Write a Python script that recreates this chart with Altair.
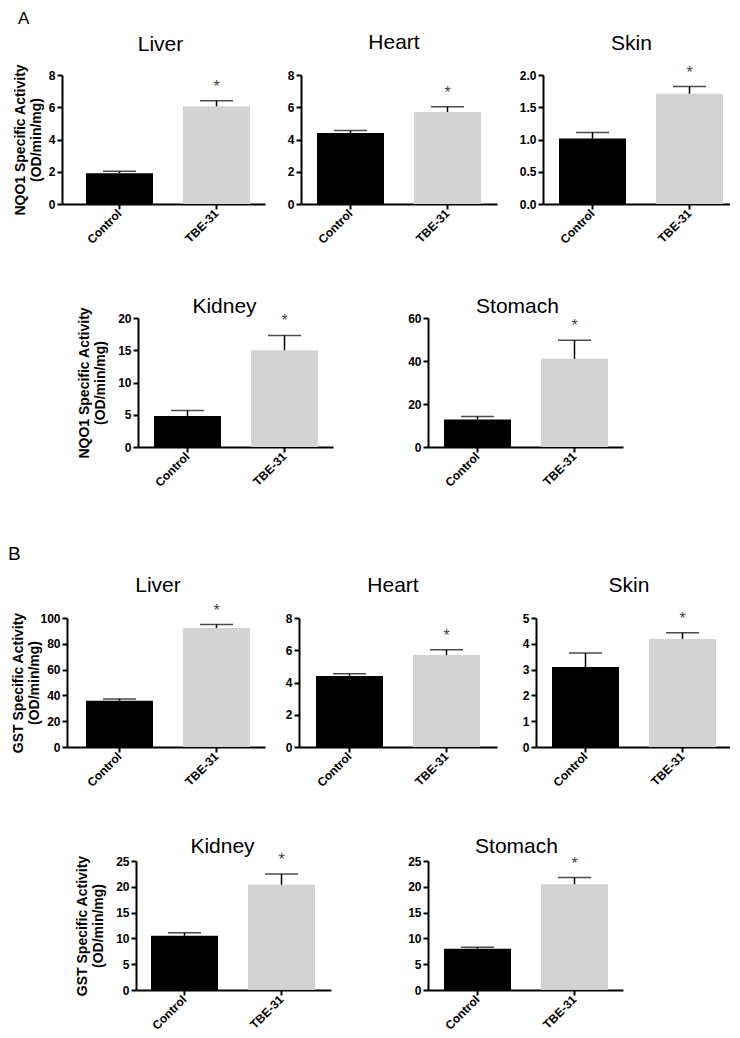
import altair as alt
import pandas as pd

# ---------------- data ----------------
groups = ["Control", "TBE-31"]
significance = ["", "*"]

# Panel A: NQO1 specific activity (OD/min/mg): mean and SEM
nqo1_liver_mean = [1.90, 6.06]
nqo1_liver_sem = [0.13, 0.35]
nqo1_heart_mean = [4.40, 5.70]
nqo1_heart_sem = [0.16, 0.33]
nqo1_skin_mean = [1.015, 1.71]
nqo1_skin_sem = [0.095, 0.11]
nqo1_kidney_mean = [4.8, 15.0]
nqo1_kidney_sem = [0.85, 2.3]
nqo1_stomach_mean = [12.8, 41.0]
nqo1_stomach_sem = [1.4, 8.7]

# Panel B: GST specific activity (OD/min/mg): mean and SEM
gst_liver_mean = [35.9, 92.2]
gst_liver_sem = [1.3, 2.7]
gst_heart_mean = [4.41, 5.70]
gst_heart_sem = [0.14, 0.33]
gst_skin_mean = [3.10, 4.19]
gst_skin_sem = [0.54, 0.24]
gst_kidney_mean = [10.5, 20.4]
gst_kidney_sem = [0.6, 2.1]
gst_stomach_mean = [8.0, 20.5]
gst_stomach_sem = [0.3, 1.3]

# y-axis tick values
ticks_0_8 = [0, 2, 4, 6, 8]
ticks_0_2 = [0, 0.5, 1.0, 1.5, 2.0]
ticks_0_20 = [0, 5, 10, 15, 20]
ticks_0_60 = [0, 20, 40, 60]
ticks_0_100 = [0, 20, 40, 60, 80, 100]
ticks_0_5 = [0, 1, 2, 3, 4, 5]
ticks_0_25 = [0, 5, 10, 15, 20, 25]

nqo1_title = ["NQO1 Specific Activity", "(OD/min/mg)"]
gst_title = ["GST Specific Activity", "(OD/min/mg)"]
section_labels = ["A", "B"]

# ---------------- styling ----------------
FONT = "Liberation Sans"
H = 129
STEP, BW = 97, 67
BAR_COLORS = ["#000000", "#d3d3d3"]


def panel(name, means, sems, ticks, W, lg, fmt="d", ytitle=None, E=None,
          toff=0.0, tdx=0.0):
    df = pd.DataFrame({"group": groups, "mean": means, "sem": sems,
                       "sig": significance})
    base = alt.Chart(df).transform_calculate(top="datum.mean + datum.sem")
    outer = W - 2 * STEP + (STEP - BW)
    xscale = alt.Scale(paddingInner=(STEP - BW) / STEP,
                       paddingOuter=outer / (2 * STEP),
                       align=lg / outer)
    xaxis = alt.Axis(labelAngle=-45, labelAlign="right", labelBaseline="middle",
                     labelFont=FONT, labelFontSize=12, labelFontWeight="bold",
                     labelColor="black", labelPadding=2,
                     domainColor="black", domainWidth=2,
                     tickColor="black", tickWidth=2, tickSize=5,
                     grid=False, title=None)
    yax = dict(values=ticks, tickCount=len(ticks), format=fmt, grid=False,
               labelFont=FONT, labelFontSize=12, labelFontWeight="bold",
               labelColor="black", labelPadding=2, labelFlush=False,
               labelOverlap=False,
               domainColor="black", domainWidth=2,
               tickColor="black", tickWidth=2, tickSize=5)
    if ytitle is not None:
        yax.update(title=ytitle, titleFont=FONT, titleFontSize=14,
                   titleFontWeight="bold", titleColor="black",
                   titleLineHeight=16, titlePadding=0,
                   minExtent=E, maxExtent=E)
    else:
        yax.update(title=None)
    yaxis = alt.Axis(**yax)
    yscale = alt.Scale(domain=[ticks[0], ticks[-1]], nice=False, zero=True)

    xs = alt.X("group:N", sort=groups, scale=xscale, axis=xaxis)
    bars = base.mark_bar().encode(
        x=xs,
        y=alt.Y("mean:Q", scale=yscale, axis=yaxis),
        color=alt.Color("group:N", scale=alt.Scale(domain=groups, range=BAR_COLORS),
                        legend=None),
    )
    stem = base.mark_rule(color="black", strokeWidth=1.5).encode(
        x=xs, y=alt.Y("mean:Q", scale=yscale, axis=yaxis), y2="top:Q")
    cap = base.mark_tick(color="black", thickness=1.5, size=33).encode(
        x=xs, y=alt.Y("top:Q", scale=yscale, axis=yaxis))
    star = base.mark_text(font=FONT, fontSize=16, color="#444444",
                          baseline="alphabetic", dy=-9).encode(
        x=xs, y=alt.Y("top:Q", scale=yscale, axis=yaxis), text="sig:N")
    return alt.layer(bars, stem, cap, star).properties(
        width=W, height=H,
        title=alt.TitleParams(text=name, font=FONT, fontSize=21,
                              fontWeight="normal", color="black",
                              anchor="middle", frame="group",
                              offset=toff, dx=tdx),
    )


def spacer(w):
    return alt.Chart(pd.DataFrame({"v": [0]})).mark_point(size=0, opacity=0).encode(
        x=alt.value(w / 2), y=alt.value(H / 2)).properties(width=w, height=H)


def lead(w, T, B, label=None, lx=0, ly=0, size=19):
    """Leading spacer of a row: fixes the row's vertical extent and holds the section letter."""
    base = alt.Chart(pd.DataFrame({"v": [0]}))
    layers = [base.mark_rule(strokeOpacity=0, strokeWidth=0.01).encode(
        x=alt.value(0), y=alt.value(-T), y2=alt.value(H + B))]
    if label is not None:
        layers.append(base.mark_text(text=label, font=FONT, fontSize=size, color="black",
                                     align="left", baseline="top").encode(
            x=alt.value(lx), y=alt.value(ly)))
    return alt.layer(*layers).properties(width=w, height=H)


def row(*cells):
    return alt.hconcat(*cells, spacing=0, bounds="flush")


a_liver = panel("Liver", nqo1_liver_mean, nqo1_liver_sem, ticks_0_8, 203, 24,
                ytitle=nqo1_title, E=19, toff=8.6, tdx=-3)
a_heart = panel("Heart", nqo1_heart_mean, nqo1_heart_sem, ticks_0_8, 196, 16,
                toff=15.6, tdx=-5)
a_skin = panel("Skin", nqo1_skin_mean, nqo1_skin_sem, ticks_0_2, 187, 16,
               fmt=".1f", toff=10.4, tdx=-5)
a_kidney = panel("Kidney", nqo1_kidney_mean, nqo1_kidney_sem, ticks_0_20, 195, 16,
                 ytitle=nqo1_title, E=31, toff=-10.4, tdx=-11)
a_stomach = panel("Stomach", nqo1_stomach_mean, nqo1_stomach_sem, ticks_0_60, 195, 16,
                  toff=-5.4, tdx=-8)

b_liver = panel("Liver", gst_liver_mean, gst_liver_sem, ticks_0_100, 198, 19,
                ytitle=gst_title, E=26, toff=6.4, tdx=-8)
b_heart = panel("Heart", gst_heart_mean, gst_heart_sem, ticks_0_8, 198, 17,
                toff=15.6, tdx=-5)
b_skin = panel("Skin", gst_skin_mean, gst_skin_sem, ticks_0_5, 194, 16,
               toff=14.5, tdx=-4)
b_kidney = panel("Kidney", gst_kidney_mean, gst_kidney_sem, ticks_0_25, 195, 15,
                 ytitle=gst_title, E=31, toff=-5.3, tdx=-11)
b_stomach = panel("Stomach", gst_stomach_mean, gst_stomach_sem, ticks_0_25, 195, 16,
                  toff=-2.4, tdx=-9)

BOT = 42
row_a1 = row(lead(1, 67, BOT, section_labels[0], lx=-43, ly=-64, size=17),
             a_liver, spacer(36), a_heart, spacer(46), a_skin)
row_a2 = row(lead(77, 72, BOT), a_kidney, spacer(95), a_stomach)
row_b1 = row(lead(6, 129, BOT, section_labels[1], lx=-53, ly=-73),
             b_liver, spacer(34), b_heart, spacer(39), b_skin)
row_b2 = row(lead(75, 72, 36), b_kidney, spacer(97), b_stomach)

chart = alt.vconcat(row_a1, row_a2, row_b1, row_b2, spacing=0).properties(
    padding=0, background="white"
).configure_view(stroke=None)

chart.save("out.html", embed_options={"renderer": "svg", "actions": False})
